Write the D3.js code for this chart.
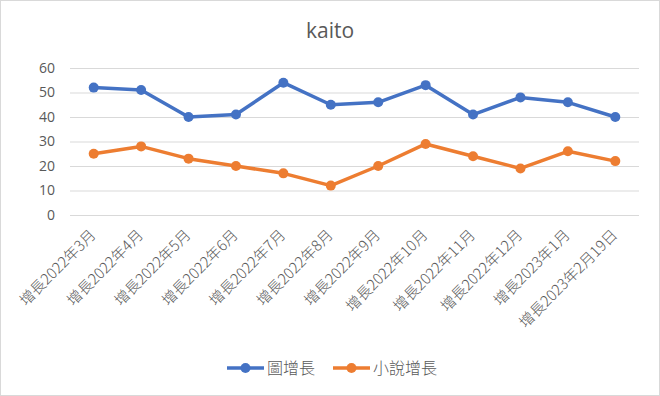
<!DOCTYPE html>
<html>
<head>
<meta charset="utf-8">
<script src="https://cdn.jsdelivr.net/npm/d3@7"></script>
<style>
  body { margin: 0; background: #fff; }
  svg text { font-family: "Noto Sans CJK TC", "Noto Sans", sans-serif; fill: #595959; }
</style>
</head>
<body>
<div id="chart"></div>
<script>
// categories and series
const categories = [
  "增長2022年3月", "增長2022年4月", "增長2022年5月", "增長2022年6月",
  "增長2022年7月", "增長2022年8月", "增長2022年9月", "增長2022年10月",
  "增長2022年11月", "增長2022年12月", "增長2023年1月", "增長2023年2月19日"
];
const seriesNames = ["圖增長", "小說增長"];
const picGrowth = [52, 51, 40, 41, 54, 45, 46, 53, 41, 48, 46, 40];
const novelGrowth = [25, 28, 23, 20, 17, 12, 20, 29, 24, 19, 26, 22];
const yTicks = [0, 10, 20, 30, 40, 50, 60];

const width = 660, height = 396;
const colors = ["#4472C4", "#ED7D31"];

const svg = d3.select("#chart").append("svg")
  .attr("width", width)
  .attr("height", height);

// chart border
svg.append("rect")
  .attr("x", 0.5).attr("y", 0.5)
  .attr("width", width - 1).attr("height", height - 1)
  .attr("fill", "#fff")
  .attr("stroke", "#d9d9d9");

// title
svg.append("text")
  .attr("x", 330).attr("y", 38)
  .attr("text-anchor", "middle")
  .style("font-family", "'Open Sans', 'Noto Sans', sans-serif")
  .style("font-size", "21px")
  .text("kaito");

const xScale = d3.scaleBand()
  .domain(categories)
  .range([70, 639]);

const yScale = d3.scaleLinear()
  .domain([0, 60])
  .range([215, 68]);

// gridlines + y labels
const yAxis = d3.axisLeft(yScale)
  .tickValues(yTicks)
  .tickSize(-(639 - 70))
  .tickPadding(15);

svg.append("g")
  .attr("transform", "translate(70,0)")
  .call(yAxis)
  .call(g => g.select(".domain").remove())
  .call(g => g.selectAll("line").attr("stroke", "#d9d9d9"))
  .call(g => g.selectAll("text")
    .style("font-size", "14px")
    .style("font-family", "'Open Sans', 'Noto Sans', sans-serif")
    .attr("fill", "#595959"));

// x labels, rotated
const xAxis = d3.axisBottom(xScale).tickSize(0).tickPadding(0);
svg.append("g")
  .attr("transform", "translate(0,215)")
  .call(xAxis)
  .call(g => g.select(".domain").remove())
  .call(g => g.selectAll("text")
    .style("font-size", "15px")
    .style("font-weight", "300")
    .attr("fill", "#595959")
    .attr("text-anchor", "end")
    .attr("dy", null)
    .attr("y", 0)
    .attr("transform", "translate(3,21) rotate(-45)"));

const series = [picGrowth, novelGrowth];

const line = d3.line()
  .x((d, i) => xScale(categories[i]) + xScale.bandwidth() / 2)
  .y(d => yScale(d));

series.forEach((values, s) => {
  const g = svg.append("g");
  g.append("path")
    .datum(values)
    .attr("d", line)
    .attr("fill", "none")
    .attr("stroke", colors[s])
    .attr("stroke-width", 3.5)
    .attr("stroke-linejoin", "round");
  g.selectAll("circle")
    .data(values)
    .enter()
    .append("circle")
    .attr("cx", (d, i) => xScale(categories[i]) + xScale.bandwidth() / 2)
    .attr("cy", d => yScale(d))
    .attr("r", 5)
    .attr("fill", colors[s]);
});

// legend
const legendX = [227, 333];
seriesNames.forEach((name, s) => {
  const g = svg.append("g").attr("transform", "translate(" + legendX[s] + ",368)");
  g.append("line")
    .attr("x1", 0).attr("x2", 37)
    .attr("stroke", colors[s])
    .attr("stroke-width", 3.5);
  g.append("circle")
    .attr("cx", 18.5).attr("r", 5)
    .attr("fill", colors[s]);
  g.append("text")
    .attr("x", 40).attr("y", 6)
    .style("font-size", "16px")
    .style("font-weight", "300")
    .text(name);
});
</script>
</body>
</html>
